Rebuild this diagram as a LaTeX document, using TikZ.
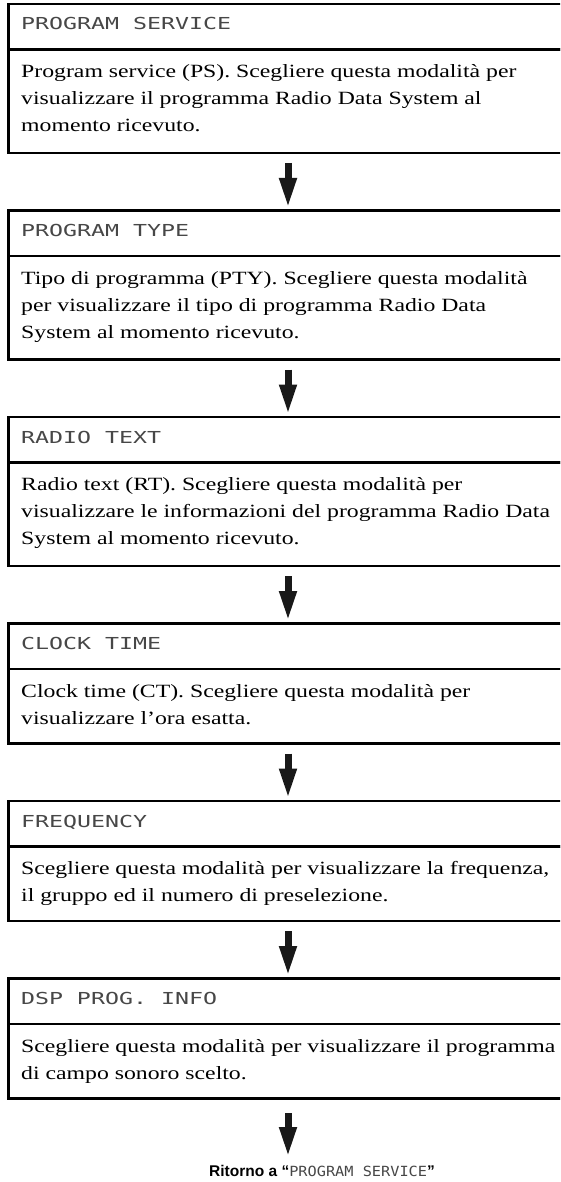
\documentclass[tikz,border=0pt]{standalone}
\usepackage{fontspec}
\usetikzlibrary{arrows.meta}
\newfontfamily\bodyfont[FakeStretch=1.27]{Liberation Serif}
\newfontfamily\lcdfont[FakeStretch=1.41]{DejaVu Sans Mono}
\newfontfamily\lcdsmall[FakeStretch=1.09]{DejaVu Sans Mono}
\newfontfamily\retfont{Liberation Sans}
\newcommand\lsp{\hspace*{14pt}}
\newcommand\ssp{\hspace*{9.2pt}}
\tikzset{
  hdr/.style={draw, line width=2.5pt, outer sep=0pt, anchor=north west, inner xsep=12.5pt, inner ysep=0pt,
    text width=534pt, align=left, minimum height=45.5pt, text height=12pt, text depth=5.5pt,
    font=\lcdfont\fontsize{16.5}{20}\selectfont, text=black!72},
  bodybox/.style={draw, line width=2.5pt, outer sep=0pt, anchor=north west, inner sep=0pt, minimum width=559pt},
  bodytxt/.style={anchor=north west, inner sep=0pt, align=left,
    font=\bodyfont\fontsize{18.7}{27}\selectfont},
  flowarrow/.style={line width=7pt, draw=black!90, -{Triangle[length=30pt,width=16pt]}},
}
\begin{document}
\begin{tikzpicture}[x=1pt,y=1pt]
\useasboundingbox (0,0) rectangle (560,-1182);
\clip (0,0) rectangle (560,-1182);
% box 1
\node[hdr] (h1) at (8.5,-4) {PROGRAM\lsp SERVICE};
\node[bodybox, minimum height=103.5pt] (b1) at (h1.south west) {};
\node[bodytxt] (t1) at ([xshift=12.5pt,yshift=-9.1pt]b1.north west) {\strut Program service (PS). Scegliere questa modalità per\\visualizzare il programma Radio Data System al\\momento ricevuto.};
% box 2
\node[hdr] (h2) at (8.5,-210.5) {PROGRAM\lsp TYPE};
\node[bodybox, minimum height=103.5pt] (b2) at (h2.south west) {};
\node[bodytxt] (t2) at ([xshift=12.5pt,yshift=-9.1pt]b2.north west) {\strut Tipo di programma (PTY). Scegliere questa modalità\\per visualizzare il tipo di programma Radio Data\\System al momento ricevuto.};
% box 3
\node[hdr] (h3) at (8.5,-417) {RADIO\lsp TEXT};
\node[bodybox, minimum height=103.5pt] (b3) at (h3.south west) {};
\node[bodytxt] (t3) at ([xshift=12.5pt,yshift=-9.1pt]b3.north west) {\strut Radio text (RT). Scegliere questa modalità per\\visualizzare le informazioni del programma Radio Data\\System al momento ricevuto.};
% box 4
\node[hdr] (h4) at (8.5,-623.5) {CLOCK\lsp TIME};
\node[bodybox, minimum height=74.5pt] (b4) at (h4.south west) {};
\node[bodytxt] (t4) at ([xshift=12.5pt,yshift=-9.1pt]b4.north west) {\strut Clock time (CT). Scegliere questa modalità per\\visualizzare l’ora esatta.};
% box 5
\node[hdr] (h5) at (8.5,-801) {FREQUENCY};
\node[bodybox, minimum height=74.5pt] (b5) at (h5.south west) {};
\node[bodytxt] (t5) at ([xshift=12.5pt,yshift=-9.1pt]b5.north west) {\strut Scegliere questa modalità per visualizzare la frequenza,\\il gruppo ed il numero di preselezione.};
% box 6
\node[hdr] (h6) at (8.5,-978.5) {DSP\lsp PROG.\lsp INFO};
\node[bodybox, minimum height=74.5pt] (b6) at (h6.south west) {};
\node[bodytxt] (t6) at ([xshift=12.5pt,yshift=-9.1pt]b6.north west) {\strut Scegliere questa modalità per visualizzare il programma\\di campo sonoro scelto.};
% return text
\node[anchor=base west, inner sep=0pt, font=\retfont\bfseries\fontsize{15.5}{18}\selectfont] (ret) at (209,-1176)
  {Ritorno a “{\lcdsmall\mdseries\fontsize{14}{16}\selectfont\color{black!72}PROGRAM\ssp SERVICE}”};
\coordinate (retin) at (b6.south |- 0,-1157);
% arrows
\draw[flowarrow] ([yshift=-10pt]b1.south) -- ([yshift=2.5pt]h2.north);
\draw[flowarrow] ([yshift=-10pt]b2.south) -- ([yshift=2.5pt]h3.north);
\draw[flowarrow] ([yshift=-10pt]b3.south) -- ([yshift=2.5pt]h4.north);
\draw[flowarrow] ([yshift=-10pt]b4.south) -- ([yshift=2.5pt]h5.north);
\draw[flowarrow] ([yshift=-10pt]b5.south) -- ([yshift=2.5pt]h6.north);
\draw[flowarrow] ([yshift=-14.5pt]b6.south) -- (retin);
\end{tikzpicture}
\end{document}
